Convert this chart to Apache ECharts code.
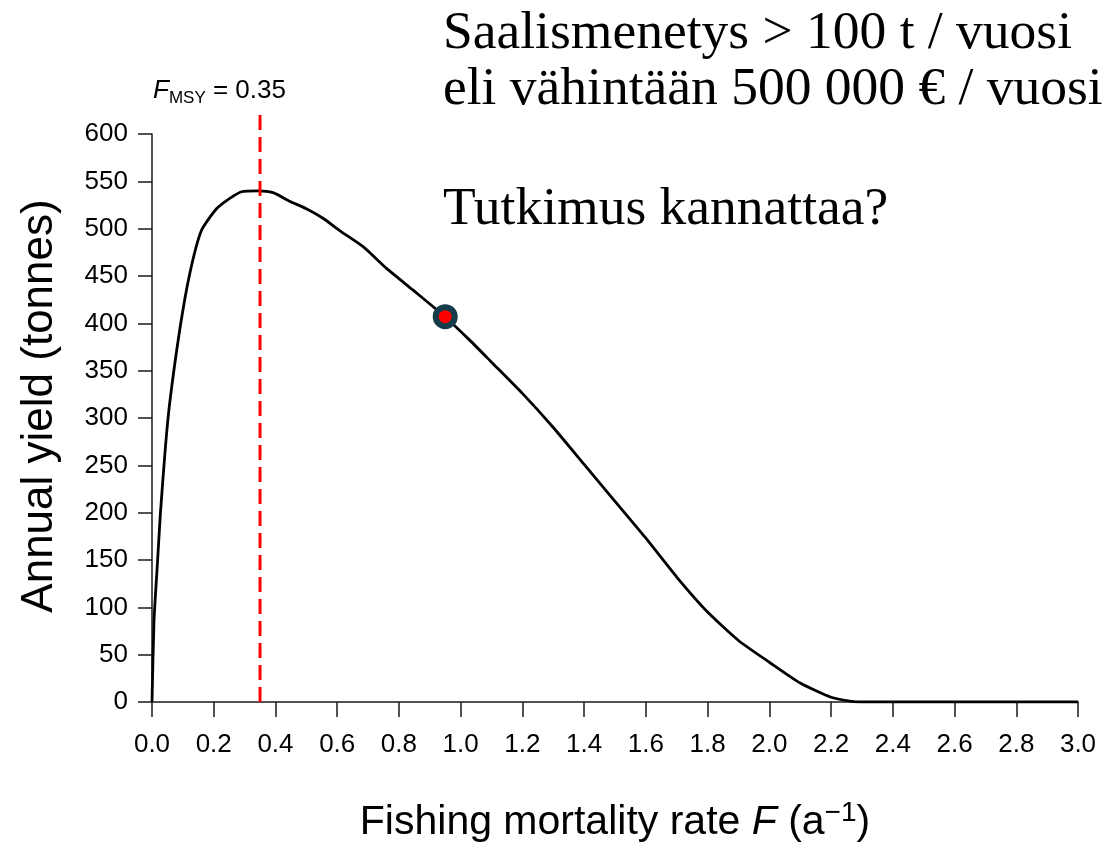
<!DOCTYPE html>
<html>
<head>
<meta charset="utf-8">
<script src="https://cdn.jsdelivr.net/npm/echarts@6/dist/echarts.min.js"></script>
<style>
html,body{margin:0;padding:0;background:#fff;}
#chart{width:1117px;height:842px;}
</style>
</head>
<body>
<div id="chart"></div>
<script>
// ---- data ----
const fValues = [0, 0.0065, 0.0175, 0.0272, 0.0434, 0.0574, 0.0898, 0.122, 0.16, 0.209, 0.252, 0.29, 0.344, 0.392, 0.446, 0.5, 0.554, 0.608, 0.684, 0.76, 0.846, 0.949, 1.03, 1.1, 1.2, 1.3, 1.4, 1.5, 1.6, 1.7, 1.8, 1.9, 2.0, 2.1, 2.2, 2.26, 2.3, 2.5, 3.0];
const yieldValues = [0, 86, 146, 199, 269, 316, 393, 452, 498, 521, 532, 539, 540, 538, 529, 521, 511, 498, 481, 458, 435, 407, 382, 359, 326, 290, 251, 212, 173, 132, 95, 65, 42, 20, 5, 1, 0, 0, 0];
const fmsy = 0.35;
const fmsyLineRange = [0, 624];
const currentF = [0.95];
const currentYield = [407];
const xTickLabels = ['0.0','0.2','0.4','0.6','0.8','1.0','1.2','1.4','1.6','1.8','2.0','2.2','2.4','2.6','2.8','3.0'];
const yTickLabels = ['0','50','100','150','200','250','300','350','400','450','500','550','600'];
const headlineLines = ['Saalismenetys > 100 t / vuosi', 'eli vähintään 500 000 € / vuosi', 'Tutkimus kannattaa?'];

const curveData = fValues.map((f, i) => [f, yieldValues[i]]);
const pointData = currentF.map((f, i) => [f, currentYield[i]]);
const fmsyData = fmsyLineRange.map(v => [fmsy, v]);

const sans = 'Liberation Sans, Arial, sans-serif';
const serif = 'Liberation Serif, Times New Roman, serif';
const axisCol = '#1a1a1a';

const chart = echarts.init(document.getElementById('chart'), null, {renderer: 'canvas'});
chart.setOption({
  backgroundColor: '#ffffff',
  animation: false,
  grid: [
    {left: 152, right: 39, top: 134, bottom: 140, containLabel: false, outerBoundsMode: 'none'},
    {left: 152, right: 39, top: 112, bottom: 140, containLabel: false, outerBoundsMode: 'none'}
  ],
  xAxis: [
    {
      gridIndex: 0, type: 'value', min: 0, max: 3, interval: 0.2,
      name: '{t|Fishing mortality rate }{i|F}{t| (a}{s|−1}{t|)}',
      nameLocation: 'middle', nameGap: 97,
      nameTextStyle: {
        rich: {
          t: {fontFamily: sans, fontSize: 41, color: '#000', lineHeight: 48},
          i: {fontFamily: sans, fontSize: 41, fontStyle: 'italic', color: '#000', lineHeight: 48},
          s: {fontFamily: sans, fontSize: 28, color: '#000', lineHeight: 28, verticalAlign: 'top'}
        }
      },
      splitLine: {show: false},
      axisLine: {show: true, onZero: false, lineStyle: {color: axisCol, width: 1.5}},
      axisTick: {show: true, inside: false, length: 15, lineStyle: {color: axisCol, width: 1.5}},
      axisLabel: {
        fontFamily: sans, fontSize: 26, color: '#000', margin: 30,
        formatter: v => xTickLabels[Math.round(v / 0.2)]
      }
    },
    {gridIndex: 1, type: 'value', min: 0, max: 3, show: false}
  ],
  yAxis: [
    {
      gridIndex: 0, type: 'value', min: 0, max: 600, interval: 50,
      name: 'Annual yield (tonnes)', nameLocation: 'middle', nameGap: 90,
      nameTextStyle: {fontFamily: sans, fontSize: 44, color: '#000', padding: [0, 0, 0, 24]},
      splitLine: {show: false},
      axisLine: {show: true, onZero: false, lineStyle: {color: axisCol, width: 1.5}},
      axisTick: {show: true, inside: false, length: 14, lineStyle: {color: axisCol, width: 1.5}},
      axisLabel: {
        fontFamily: sans, fontSize: 26, color: '#000', margin: 24,
        formatter: v => yTickLabels[Math.round(v / 50)]
      }
    },
    {gridIndex: 1, type: 'value', min: fmsyLineRange[0], max: fmsyLineRange[1], show: false}
  ],
  series: [
    {
      type: 'line', xAxisIndex: 0, yAxisIndex: 0, data: curveData,
      showSymbol: false, smooth: 0.2, z: 2,
      lineStyle: {color: '#000', width: 2.8}
    },
    {
      type: 'line', xAxisIndex: 1, yAxisIndex: 1, data: fmsyData,
      showSymbol: false, z: 3,
      lineStyle: {color: '#ff0000', width: 3, type: [15, 7]}
    },
    {
      type: 'scatter', xAxisIndex: 0, yAxisIndex: 0, data: pointData,
      symbol: 'circle', symbolSize: 19, z: 5,
      itemStyle: {color: '#ff0000', borderColor: '#133b4a', borderWidth: 6, opacity: 1}
    }
  ],
  graphic: [
    {
      type: 'text', left: 153, top: 78, z: 10,
      style: {
        text: '{f|F}{s|MSY}{n| = 0.35}',
        rich: {
          f: {fontFamily: sans, fontSize: 26, fontStyle: 'italic', fill: '#000', lineHeight: 32},
          s: {fontFamily: sans, fontSize: 17, fill: '#000', lineHeight: 17, verticalAlign: 'bottom'},
          n: {fontFamily: sans, fontSize: 26, fill: '#000', lineHeight: 32}
        }
      }
    },
    {type: 'text', left: 443, top: 7, z: 10,
     style: {text: headlineLines[0], font: '53.5px ' + serif, fill: '#000'}},
    {type: 'text', left: 443, top: 63, z: 10,
     style: {text: headlineLines[1], font: '53.5px ' + serif, fill: '#000'}},
    {type: 'text', left: 443, top: 183, z: 10,
     style: {text: headlineLines[2], font: '53.5px ' + serif, fill: '#000'}}
  ]
});
</script>
</body>
</html>
